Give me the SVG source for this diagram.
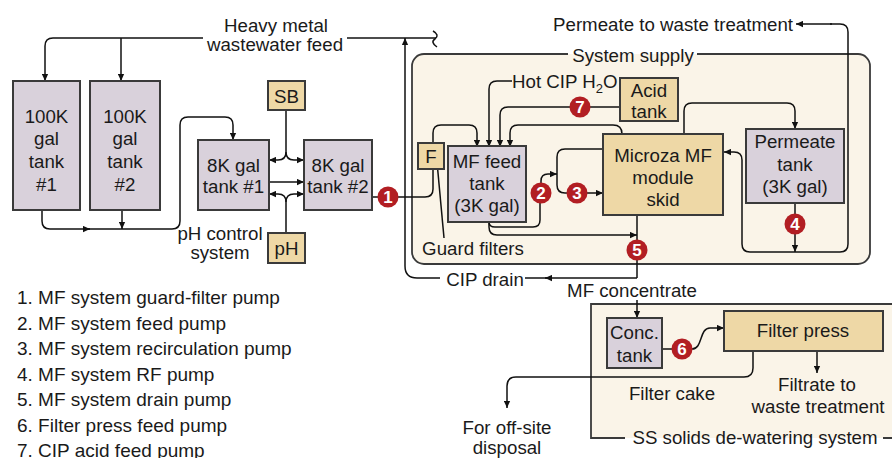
<svg xmlns="http://www.w3.org/2000/svg" width="892" height="458" viewBox="0 0 892 458">
<defs>
<marker id="a" viewBox="0 0 10 10" refX="10" refY="5" markerWidth="9" markerHeight="7" orient="auto" markerUnits="userSpaceOnUse"><path d="M0,0.5 L10,5 L0,9.5 z" fill="#111"/></marker>
<style>
text{font-family:"Liberation Sans",Arial,sans-serif;font-size:18.7px;fill:#1a1a1a}
.m{text-anchor:middle}
.lg{font-size:19px}
.tank{fill:#d9d1db;stroke:#3a3a3a;stroke-width:2}
.tan{fill:#eed8a6;stroke:#3a3a3a;stroke-width:2}
.box{fill:#faf4e8}
.bline{fill:none;stroke:#3a3a3a;stroke-width:1.8}
.c path{fill:none;stroke:#111;stroke-width:1.5}
.ar{marker-end:url(#a)}
.pump circle{fill:#b21e23}
.pump text{fill:#fff;font-weight:bold;font-size:17px;text-anchor:middle}
</style>
</defs>
<rect width="892" height="458" fill="#fff"/>

<g id="system-supply">
<rect class="box" x="412" y="54" width="458" height="210" rx="12"/>
<path class="bline" d="M568,54 H424 A12,12 0 0 0 412,66 V252 A12,12 0 0 0 424,264 H858 A12,12 0 0 0 870,252 V66 A12,12 0 0 0 858,54 H697"/>
<text class="m" x="633" y="62">System supply</text>
</g>

<g id="ss-solids">
<rect class="box" x="591" y="304" width="301" height="134"/>
<path class="bline" d="M625,438 H591 V304 H892 M883,438 H892"/>
<text class="m" x="755" y="444">SS solids de-watering system</text>
</g>

<g class="c" id="connectors">
<path class="ar" d="M203,38 H53 Q45,38 45,46 V81"/>
<path class="ar" d="M121,38 V81"/>
<path d="M347,38 H436"/>
<path d="M433,31 q7,4 2,8 q-5,3 2,8"/>
<path class="ar" d="M42,210 V221 Q42,229 50,229 H90"/>
<path d="M88,229 H172 Q180,229 180,221 V125 Q180,117 188,117 H225 Q233,117 233,125 V140" class="ar"/>
<path class="ar" d="M122,210 V229"/>
<path class="ar" d="M286,110 V152 Q286,160 278,160 H269"/>
<path class="ar" d="M286,152 Q286,160 294,160 H304"/>
<path class="ar" d="M286,233 V202 Q286,194 278,194 H269"/>
<path class="ar" d="M286,202 Q286,194 294,194 H304"/>
<path class="ar" d="M269,182 H304"/>
<path d="M372,197 H378"/>
<path d="M398,197 H425 Q433,197 433,189 V169"/>
<path d="M437,162 L444,238"/>
<path class="ar" d="M433,143 V133 Q433,125 441,125 H469 Q477,125 477,133 V147"/>
<path class="ar" d="M512,81 H497 Q489,81 489,89 V147"/>
<path d="M620,107 H590"/>
<path class="ar" d="M570,107 H508 Q500,107 500,115 V147"/>
<path class="ar" d="M622,134 Q622,125 613,125 H518 Q510,125 510,133 V147"/>
<path class="ar" d="M684,134 V111 Q684,103 692,103 H787 Q795,103 795,111 V129"/>
<path d="M489,222 Q489,227 495,227 H533 Q540,227 540,220 V203"/>
<path class="ar" d="M541,183 V181 Q541,174 548,174 H557"/>
<path d="M603,149 H565 Q557,149 557,157 V185 Q557,193 565,193 H567"/>
<path class="ar" d="M587,193 H603"/>
<path class="ar" d="M489,222 V227 Q489,235 497,235 H637"/>
<path d="M637,215 V240 M637,260 V278"/>
<path class="ar" d="M637,278 H545"/>
<path d="M547,278 H525"/>
<path class="ar" d="M440,278 H417 Q405,278 405,266 V38"/>
<path d="M795,203 V214"/>
<path class="ar" d="M795,234 V252"/>
<path d="M742,160 V244 Q742,252 750,252 H840 Q848,252 848,244 V32 Q848,24 840,24 H830"/>
<path class="ar" d="M832,24 H796"/>
<path class="ar" d="M742,160 Q742,152 734,152 H724"/>
<path class="ar" d="M637,300 V318"/>
<path d="M662,349 H672"/>
<path class="ar" d="M692,349 C703,349 699,328 710,328 H724"/>
<path class="ar" d="M817,351 V373"/>
<path class="ar" d="M753,351 V368 Q753,377 744,377 H516 Q507,377 507,386 V408"/>
</g>

<g id="tank-100k-1"><rect class="tank" x="13" y="81" width="67" height="129"/>
<text class="m" x="46.5" y="123">100K</text><text class="m" x="46.5" y="145">gal</text><text class="m" x="46.5" y="168">tank</text><text class="m" x="46.5" y="191">#1</text></g>
<g id="tank-100k-2"><rect class="tank" x="90" y="81" width="70" height="129"/>
<text class="m" x="125" y="123">100K</text><text class="m" x="125" y="145">gal</text><text class="m" x="125" y="168">tank</text><text class="m" x="125" y="191">#2</text></g>
<g id="tank-8k-1"><rect class="tank" x="198" y="140" width="71" height="70"/>
<text class="m" x="233.5" y="172">8K gal</text><text class="m" x="233.5" y="193">tank #1</text></g>
<g id="tank-8k-2"><rect class="tank" x="304" y="140" width="68" height="70"/>
<text class="m" x="338" y="172">8K gal</text><text class="m" x="338" y="193">tank #2</text></g>
<g id="sb"><rect class="tan" x="268" y="81" width="37" height="29"/><text class="m" x="286.5" y="103">SB</text></g>
<g id="ph"><rect class="tan" x="268" y="233" width="37" height="30"/><text class="m" x="286.5" y="255">pH</text></g>
<g id="guard-filter"><rect class="tan" x="418" y="143" width="26" height="26"/><text class="m" x="431" y="163">F</text></g>
<g id="mf-feed-tank"><rect class="tank" x="448" y="146" width="78" height="76"/>
<text class="m" x="487" y="168">MF feed</text><text class="m" x="487" y="190">tank</text><text class="m" x="487" y="212">(3K gal)</text></g>
<g id="acid-tank"><rect class="tan" x="620" y="78" width="58" height="43"/>
<text class="m" x="649" y="97">Acid</text><text class="m" x="649" y="118">tank</text></g>
<g id="microza"><rect class="tan" x="603" y="134" width="120" height="81"/>
<text class="m" x="663" y="162">Microza MF</text><text class="m" x="663" y="184">module</text><text class="m" x="663" y="206">skid</text></g>
<g id="permeate-tank"><rect class="tank" x="746" y="129" width="98" height="74"/>
<text class="m" x="795" y="148">Permeate</text><text class="m" x="795" y="171">tank</text><text class="m" x="795" y="193">(3K gal)</text></g>
<g id="conc-tank"><rect class="tank" x="607" y="318" width="55" height="50"/>
<text class="m" x="634.5" y="339">Conc.</text><text class="m" x="634.5" y="362">tank</text></g>
<g id="filter-press"><rect class="tan" x="724" y="311" width="159" height="40"/>
<text class="m" x="803" y="337">Filter press</text></g>

<g id="pumps">
<g class="pump" id="pump-1"><circle cx="388" cy="197" r="10.5"/><text x="388" y="203">1</text></g>
<g class="pump" id="pump-2"><circle cx="541" cy="193" r="10.5"/><text x="541" y="199">2</text></g>
<g class="pump" id="pump-3"><circle cx="577" cy="193" r="10.5"/><text x="577" y="199">3</text></g>
<g class="pump" id="pump-4"><circle cx="795" cy="224" r="10.5"/><text x="795" y="230">4</text></g>
<g class="pump" id="pump-5"><circle cx="637" cy="250" r="10.5"/><text x="637" y="256">5</text></g>
<g class="pump" id="pump-6"><circle cx="682" cy="349" r="10.5"/><text x="682" y="355">6</text></g>
<g class="pump" id="pump-7"><circle cx="580" cy="107" r="10.5"/><text x="580" y="113">7</text></g>
</g>

<g id="labels">
<text class="m" x="276" y="32">Heavy metal</text>
<text class="m" x="275" y="51">wastewater feed</text>
<text class="m" x="220" y="240">pH control</text>
<text class="m" x="220" y="259">system</text>
<text class="m" x="673" y="31">Permeate to waste treatment</text>
<text x="512" y="88">Hot CIP H<tspan font-size="13" dy="5">2</tspan><tspan dy="-5">O</tspan></text>
<text class="m" x="473" y="255">Guard filters</text>
<text class="m" x="485" y="286">CIP drain</text>
<text class="m" x="632" y="297">MF concentrate</text>
<text class="m" x="672" y="400">Filter cake</text>
<text class="m" x="817" y="391">Filtrate to</text>
<text class="m" x="818" y="413">waste treatment</text>
<text class="m" x="507" y="434">For off-site</text>
<text class="m" x="507" y="454">disposal</text>
</g>

<g id="legend">
<text class="lg" x="17" y="304">1. MF system guard-filter pump</text>
<text class="lg" x="17" y="330">2. MF system feed pump</text>
<text class="lg" x="17" y="355">3. MF system recirculation pump</text>
<text class="lg" x="17" y="381">4. MF system RF pump</text>
<text class="lg" x="17" y="406">5. MF system drain pump</text>
<text class="lg" x="17" y="432">6. Filter press feed pump</text>
<text class="lg" x="17" y="457">7. CIP acid feed pump</text>
</g>
</svg>
